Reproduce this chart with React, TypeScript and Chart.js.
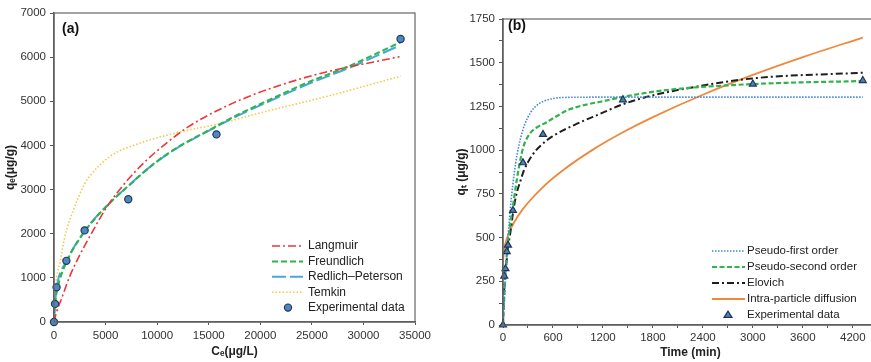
import React, { useEffect, useRef } from 'react';
import { Chart, registerables } from 'chart.js';

Chart.register(...registerables);

const FONT = '"Liberation Sans", Arial, Helvetica, sans-serif';

// ---------- Panel (a): isotherms ----------
const isoExpC = [0, 100, 250, 1200, 2970, 7200, 15750, 33600];
const isoExpQ = [0, 410, 785, 1385, 2075, 2780, 4250, 6410];

const langC = [0, 250, 750, 1500, 2500, 3500, 5000, 7000, 9000, 11000, 13000, 16000, 19000, 22000, 25000, 28000, 31000, 33500];
const langQ = [0, 230, 540, 1020, 1520, 1950, 2560, 3180, 3670, 4070, 4420, 4810, 5120, 5370, 5580, 5750, 5890, 6010];

const freuC = [0, 50, 150, 300, 600, 1000, 1500, 2000, 3000, 4000, 5000, 6000, 7000, 8550, 10150, 12000, 15710, 17170, 21330, 24520, 28640, 33600];
const freuQ = [0, 300, 520, 720, 990, 1250, 1500, 1710, 2060, 2350, 2600, 2830, 3040, 3360, 3670, 3960, 4430, 4620, 5080, 5420, 5800, 6340];

const rpC = [0, 100, 250, 1200, 2970, 4000, 5000, 6000, 7200, 8550, 10150, 12000, 15710, 17170, 21330, 24520, 28640, 33200];
const rpQ = [0, 400, 760, 1370, 2060, 2360, 2600, 2830, 3080, 3370, 3660, 3950, 4420, 4600, 5050, 5380, 5760, 6230];

const temC = [40, 120, 260, 575, 1050, 1850, 2970, 3450, 5360, 8240, 12710, 15800, 20370, 26770, 33620];
const temQ = [300, 700, 1020, 1330, 1930, 2520, 3130, 3300, 3740, 4045, 4330, 4480, 4760, 5130, 5570];

const isoXTicks = [0, 5000, 10000, 15000, 20000, 25000, 30000, 35000];
const isoYTicks = [0, 1000, 2000, 3000, 4000, 5000, 6000, 7000];

// ---------- Panel (b): kinetics ----------
const kinExpT = [0, 15, 30, 45, 60, 120, 240, 480, 1440, 3000, 4320];
const kinExpQ = [0, 280, 322, 420, 457, 655, 928, 1090, 1288, 1378, 1398];

const pfoT = [0, 15, 30, 45, 60, 75, 100, 134, 170, 214, 260, 332, 400, 490, 600, 800, 1200, 2000, 3000, 4320];
const pfoQ = [0, 149, 281, 399, 502, 594, 724, 865, 977, 1074, 1146, 1216, 1254, 1280, 1295, 1302, 1303, 1303, 1303, 1303];

const psoT = [0, 15, 30, 45, 67, 118, 185, 245, 324, 400, 500, 647, 778, 1041, 1174, 1443, 1965, 2756, 3400, 4320];
const psoQ = [0, 150, 290, 400, 505, 676, 886, 1019, 1096, 1128, 1153, 1195, 1229, 1265, 1277, 1305, 1344, 1372, 1385, 1395];

const eloT = [0, 8, 19, 40, 60, 87, 120, 154, 213, 252, 350, 450, 588, 861, 1177, 1414, 1729, 2203, 2991, 4320];
const eloQ = [0, 143, 238, 350, 440, 524, 640, 734, 830, 885, 970, 1025, 1077, 1145, 1210, 1258, 1305, 1353, 1410, 1443];

const ipdT = [0, 15, 30, 60, 120, 240, 480, 720, 1080, 1440, 1800, 2400, 3000, 3600, 4320];
const ipdQ = [362, 438, 469, 513, 576, 664, 789, 885, 1003, 1102, 1189, 1317, 1430, 1532, 1644];

const kinXLabelStep = 600;
const kinYLabelStep = 250;

const zip = (xs: number[], ys: number[]) => xs.map((x, i) => ({ x, y: ys[i] }));

type LegendOpts = { x0: number; x1: number; markerX: number; textX: number; y: number; dy: number; font: string };

function legendPlugin(id: string, o: LegendOpts) {
  return {
    id,
    afterDraw(chart: any) {
      const ctx = chart.ctx;
      ctx.save();
      ctx.font = o.font;
      ctx.textBaseline = 'middle';
      ctx.textAlign = 'left';
      chart.data.datasets.forEach((ds: any, i: number) => {
        const y = o.y + i * o.dy;
        if (ds.showLine === false) {
          ctx.setLineDash([]);
          ctx.fillStyle = ds.pointBackgroundColor;
          ctx.strokeStyle = ds.pointBorderColor;
          ctx.lineWidth = ds.pointBorderWidth;
          const r = ds.pointRadius;
          ctx.beginPath();
          if (ds.pointStyle === 'triangle') {
            const h = r * 1.5;
            ctx.moveTo(o.markerX, y - h * 0.66);
            ctx.lineTo(o.markerX + r, y + h * 0.4);
            ctx.lineTo(o.markerX - r, y + h * 0.4);
            ctx.closePath();
          } else {
            ctx.arc(o.markerX, y, r, 0, Math.PI * 2);
          }
          ctx.fill();
          ctx.stroke();
        } else {
          ctx.setLineDash(ds.borderDash || []);
          ctx.strokeStyle = ds.borderColor;
          ctx.lineWidth = ds.borderWidth;
          ctx.beginPath();
          ctx.moveTo(o.x0, y);
          ctx.lineTo(o.x1, y);
          ctx.stroke();
        }
        ctx.setLineDash([]);
        ctx.fillStyle = '#222';
        ctx.fillText(ds.label, o.textX, y);
      });
      ctx.restore();
    },
  };
}

function framePlugin(id: string, label: string, lx: number, ly: number) {
  return {
    id,
    afterDraw(chart: any) {
      const { ctx, chartArea } = chart;
      ctx.save();
      ctx.strokeStyle = '#666';
      ctx.lineWidth = 1.2;
      ctx.strokeRect(chartArea.left, chartArea.top, chartArea.right - chartArea.left, chartArea.bottom - chartArea.top);
      ctx.fillStyle = '#111';
      ctx.font = `bold 14px ${FONT}`;
      ctx.textBaseline = 'middle';
      ctx.textAlign = 'left';
      ctx.fillText(label, lx, ly);
      ctx.restore();
    },
  };
}

const tickFont = { family: FONT, size: 11.5 };
const titleFont = { family: FONT, size: 12, weight: 'bold' as const };

function lineDs(label: string, data: any[], color: string, dash: number[], width: number) {
  return {
    label,
    data,
    showLine: true,
    borderColor: color,
    backgroundColor: color,
    borderDash: dash,
    borderWidth: width,
    pointRadius: 0,
    pointHoverRadius: 0,
    fill: false,
    cubicInterpolationMode: 'monotone' as const,
    order: 1,
  };
}

function PanelA() {
  const ref = useRef<HTMLCanvasElement>(null);
  useEffect(() => {
    if (!ref.current) return;
    const chart = new Chart(ref.current, {
      type: 'scatter',
      data: {
        datasets: [
          lineDs('Langmuir', zip(langC, langQ), '#ee3636', [8, 3, 2, 3], 1.6),
          lineDs('Freundlich', zip(freuC, freuQ), '#2fb34b', [6, 3], 2),
          lineDs('Redlich\u2013Peterson', zip(rpC, rpQ), '#48a6de', [14, 4], 2),
          lineDs('Temkin', zip(temC, temQ), '#f6c845', [1.5, 2], 1.6),
          {
            label: 'Experimental data',
            data: zip(isoExpC, isoExpQ),
            showLine: false,
            pointStyle: 'circle',
            pointRadius: 3.6,
            pointBackgroundColor: '#4f86c4',
            pointBorderColor: '#233a58',
            pointBorderWidth: 1.2,
            clip: false,
            order: -1,
          } as any,
        ],
      },
      options: {
        responsive: false,
        animation: false,
        events: [],
        layout: { padding: { left: 0, top: 13, right: 16, bottom: 0 } },
        plugins: { legend: { display: false }, tooltip: { enabled: false } },
        scales: {
          x: {
            type: 'linear',
            min: 0,
            max: 35000,
            afterBuildTicks: (s: any) => { s.ticks = isoXTicks.map((v) => ({ value: v })); },
            ticks: { autoSkip: false, maxRotation: 0, padding: 4, color: '#333', font: tickFont, callback: (v: any) => String(v) },
            grid: { drawOnChartArea: false, drawTicks: true, tickLength: 3, color: '#555' },
            border: { display: true, color: '#555', width: 1.5 },
            title: { display: true, text: 'C\u2091(\u03bcg/L)', color: '#222', font: titleFont, padding: { top: 0, bottom: 3 } },
            afterFit: (s: any) => { s.height = 40; },
          },
          y: {
            type: 'linear',
            min: 0,
            max: 7000,
            afterBuildTicks: (s: any) => { s.ticks = isoYTicks.map((v) => ({ value: v })); },
            ticks: { autoSkip: false, padding: 4, color: '#333', font: tickFont, callback: (v: any) => String(v) },
            grid: { drawOnChartArea: false, drawTicks: true, tickLength: 4, color: '#555' },
            border: { display: true, color: '#555', width: 1.5 },
            title: { display: true, text: 'q\u2091(\u03bcg/g)', color: '#222', font: titleFont, padding: { top: 3, bottom: 0 } },
            afterFit: (s: any) => { s.width = 54; },
          },
        },
      } as any,
      plugins: [
        framePlugin('frameA', '(a)', 62, 29),
        legendPlugin('legA', { x0: 272, x1: 303, markerX: 288, textX: 308, y: 246, dy: 15.4, font: `12px ${FONT}` }),
      ],
    });
    return () => chart.destroy();
  }, []);
  return <canvas ref={ref} width={435} height={362} style={{ position: 'absolute', left: 0, top: 0 }} />;
}

function PanelB() {
  const ref = useRef<HTMLCanvasElement>(null);
  useEffect(() => {
    if (!ref.current) return;
    const chart = new Chart(ref.current, {
      type: 'scatter',
      data: {
        datasets: [
          lineDs('Pseudo-first order', zip(pfoT, pfoQ), '#3f86d8', [1.5, 1.5], 1.6),
          lineDs('Pseudo-second order', zip(psoT, psoQ), '#2fb34b', [5, 2.5], 2.2),
          lineDs('Elovich', zip(eloT, eloQ), '#1e1e1e', [7, 3, 2, 3], 2),
          lineDs('Intra-particle diffusion', zip(ipdT, ipdQ), '#f0883c', [], 1.8),
          {
            label: 'Experimental data',
            data: zip(kinExpT, kinExpQ),
            showLine: false,
            pointStyle: 'triangle',
            pointRadius: 4,
            pointBackgroundColor: '#4f7fb8',
            pointBorderColor: '#1d3557',
            pointBorderWidth: 1.2,
            clip: false,
            order: -1,
          } as any,
        ],
      },
      options: {
        responsive: false,
        animation: false,
        events: [],
        layout: { padding: { left: 0, top: 19, right: 1, bottom: 0 } },
        plugins: { legend: { display: false }, tooltip: { enabled: false } },
        scales: {
          x: {
            type: 'linear',
            min: 0,
            max: 4500,
            ticks: {
              stepSize: 300,
              autoSkip: false,
              maxRotation: 0,
              padding: 3,
              color: '#333',
              font: tickFont,
              callback: (v: any) => (Number(v) % kinXLabelStep === 0 ? String(v) : ''),
            },
            grid: { drawOnChartArea: false, drawTicks: true, tickLength: 3, color: '#555' },
            border: { display: true, color: '#555', width: 1.5 },
            title: { display: true, text: 'Time (min)', color: '#222', font: titleFont, padding: { top: 0, bottom: 2 } },
            afterFit: (s: any) => { s.height = 37; },
          },
          y: {
            type: 'linear',
            min: 0,
            max: 1750,
            ticks: {
              stepSize: 125,
              autoSkip: false,
              padding: 4,
              color: '#333',
              font: tickFont,
              callback: (v: any) => (Number(v) % kinYLabelStep === 0 ? String(v) : ''),
            },
            grid: { drawOnChartArea: false, drawTicks: true, tickLength: 4, color: '#555' },
            border: { display: true, color: '#555', width: 1.5 },
            title: { display: true, text: 'q\u209c (\u03bcg/g)', color: '#222', font: titleFont, padding: { top: 19, bottom: 0 } },
            afterFit: (s: any) => { s.width = 68; },
          },
        },
      } as any,
      plugins: [
        framePlugin('frameB', '(b)', 73, 26),
        legendPlugin('legB', { x0: 277, x1: 310, markerX: 293, textX: 312, y: 251, dy: 16, font: `11.5px ${FONT}` }),
      ],
    });
    return () => chart.destroy();
  }, []);
  return <canvas ref={ref} width={448} height={362} style={{ position: 'absolute', left: 0, top: 0 }} />;
}

export default function App() {
  return (
    <div style={{ position: 'fixed', left: 0, top: 0, width: 871, height: 362, overflow: 'hidden', background: '#fff' }}>
      <PanelA />
      <div style={{ position: 'absolute', left: 435, top: 0, width: 436, height: 362, overflow: 'hidden' }}>
        <PanelB />
      </div>
    </div>
  );
}
